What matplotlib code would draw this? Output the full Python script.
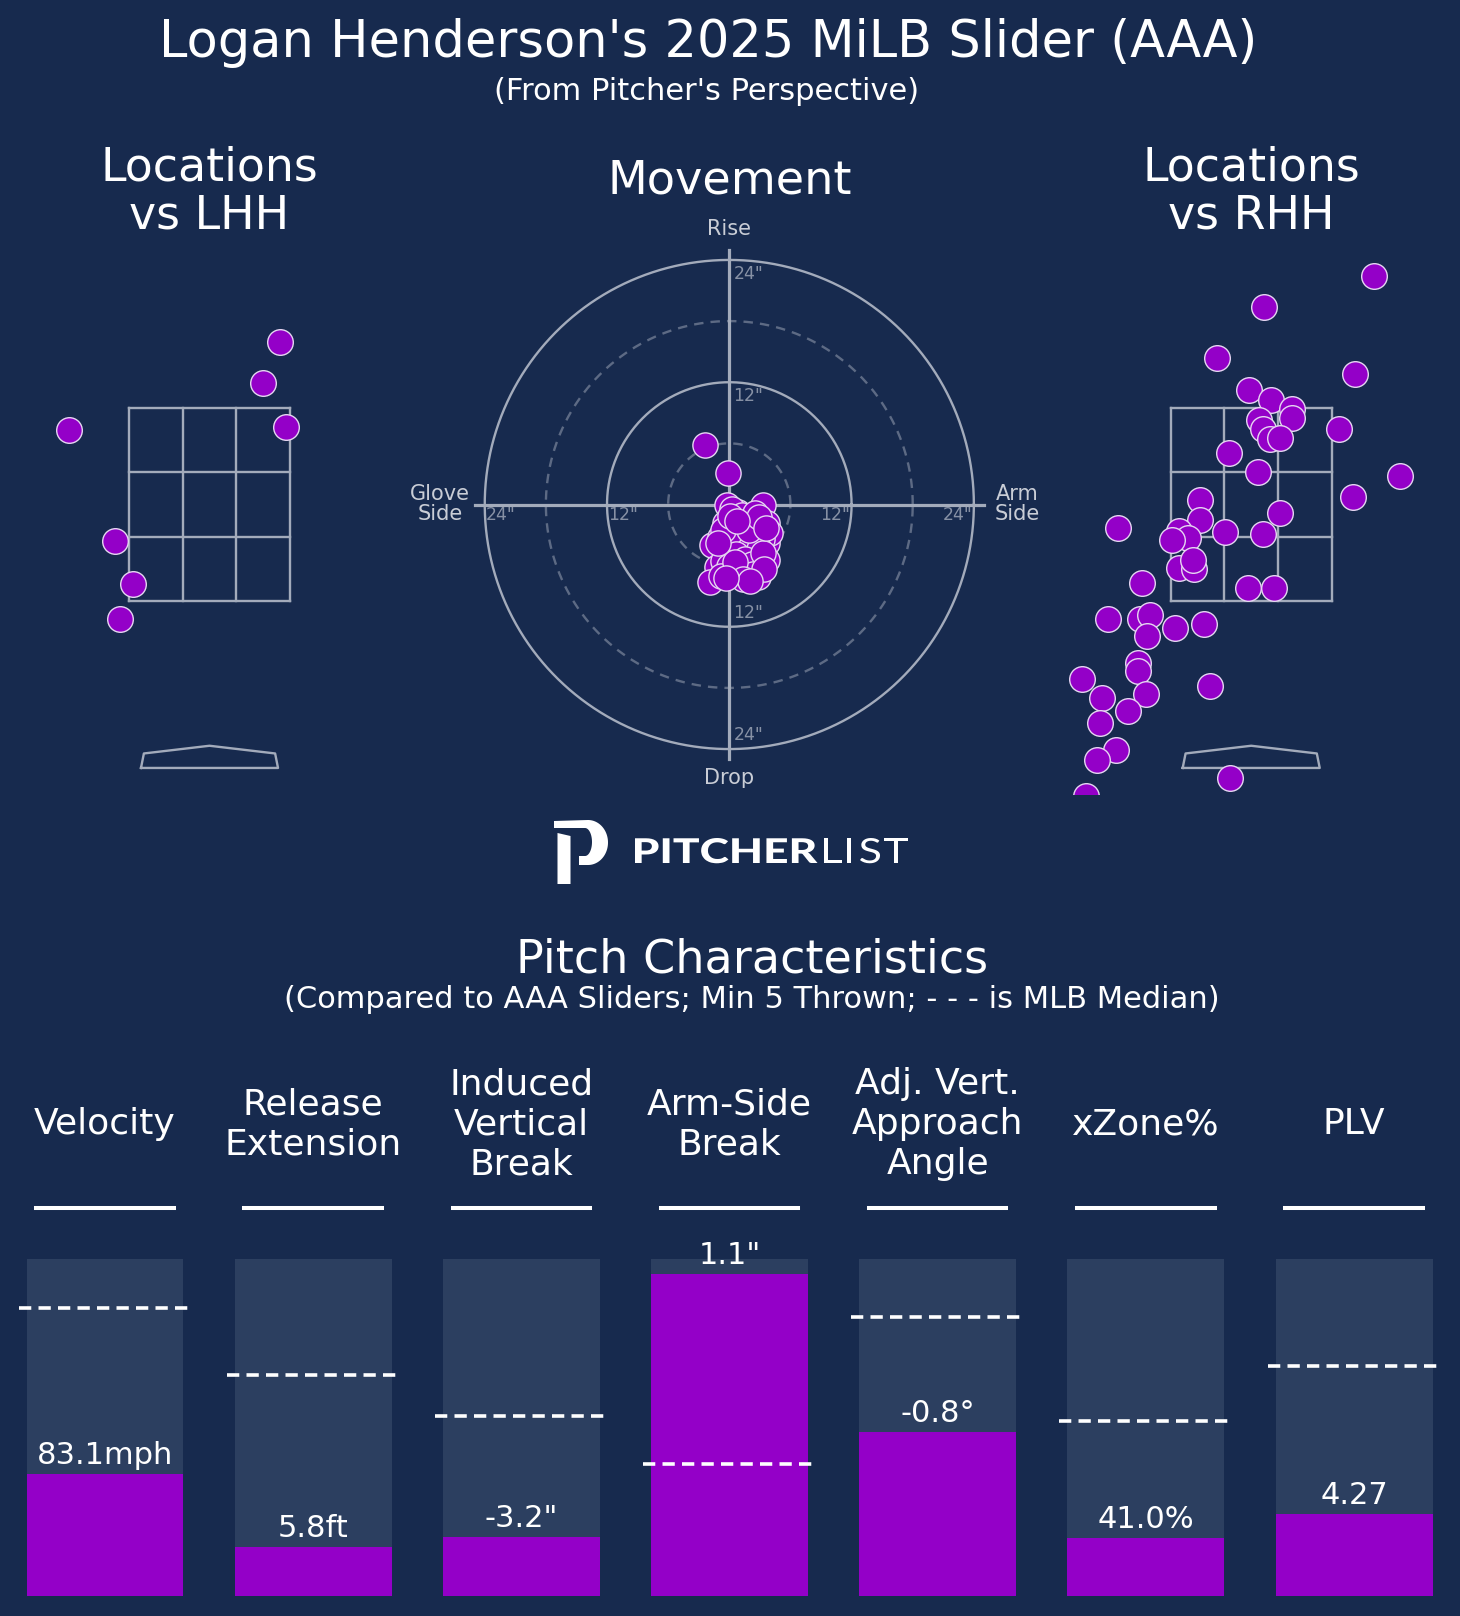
import numpy as np
import matplotlib.pyplot as plt
from matplotlib.patches import Polygon, PathPatch
from matplotlib.textpath import TextPath
from matplotlib.font_manager import FontProperties
from matplotlib.transforms import Affine2D

W, H = 1460, 1616
BG = "#172a4e"
BAR_BG = "#2c3f60"
PURPLE = "#9400c8"
EDGE = "#e6d6f2"
GRID = "#a3abbb"

# movement, inches (glove side negative, arm side positive)
hb = [-2.35, -0.1, -0.25, 3.3, 0.9, -0.4, 1.05, 3.7, 3.0, 1.7, -1.7, -0.25, 1.05,
      2.4, 3.7, -0.1, 2.7, -1.2, 0.4, 2.85, -1.9, 3.7, 1.7, -0.9, 2.0, 4.0,
      0.3, 1.2, 2.5, 0.2, 1.4, 2.6, 3.2, 0.5, -0.6, 1.8, 2.9, 0.7, 1.5, -0.6,
      2.2, 3.3, 0.0, 1.1, -0.8, 2.3, 3.4, 0.6, 1.9, 2.9, 0.1, -1.1, 1.3, 2.0,
      -0.3, 3.6, 0.8]
ivb = [5.8, 3.1, -0.05, 0.0, -0.7, -1.8, -2.2, -1.8, -2.7, -1.5, -4.0, -3.8, -4.1,
       -4.1, -3.8, -5.1, -5.1, -6.1, -6.6, -7.1, -7.6, -5.4, -6.1, -3.2, -3.2, -2.8,
       -0.4, -1.0, -0.8, -2.6, -3.0, -2.2, -3.4, -3.5, -2.5, -4.5, -4.4, -4.9, -5.3, -5.5,
       -5.8, -4.8, -6.0, -6.9, -7.0, -6.8, -6.3, -5.6, -2.5, -1.2, -1.1, -3.8, -7.3, -7.5,
       -7.2, -2.3, -1.6]

# locations, feet (pitcher's view)
lhh_x = [0.73, 0.55, 0.79, -1.46, -0.98, -0.79, -0.93]
lhh_z = [4.18, 3.76, 3.30, 3.27, 2.12, 1.68, 1.31]

rhh_x = [1.27, 0.13, -0.35, 1.08, -0.02, 0.21, 0.42, 0.42, 0.08, 0.12, 0.19, 0.30,
         0.91, -0.23, 1.54, 0.07, 1.06, -0.53, -0.53, 0.30, -1.38, -0.75, -0.66, -0.82,
         -0.27, 0.12, -0.75, -0.59, -0.60, -0.03, 0.24, -1.13, -1.48, -1.15, -1.05, -1.08,
         -0.79, -0.49, -1.17, -1.17, -1.75, -1.55, -1.09, -0.43, -1.28, -1.57, -1.40, -1.60,
         -0.22, -1.71]
rhh_z = [4.87, 4.55, 4.02, 3.85, 3.69, 3.58, 3.49, 3.40, 3.38, 3.28, 3.18, 3.19,
         3.28, 3.03, 2.80, 2.84, 2.58, 2.55, 2.34, 2.41, 2.26, 2.23, 2.15, 2.13,
         2.22, 2.19, 1.84, 1.83, 1.93, 1.63, 1.63, 1.69, 1.31, 1.31, 1.36, 1.14,
         1.22, 1.26, 0.86, 0.77, 0.69, 0.49, 0.54, 0.62, 0.36, 0.24, -0.04, -0.15,
         -0.33, -0.52]

metrics = ["Velocity", "Release\nExtension", "Induced\nVertical\nBreak", "Arm-Side\nBreak",
           "Adj. Vert.\nApproach\nAngle", "xZone%", "PLV"]
value_labels = ["83.1mph", "5.8ft", "-3.2\"", "1.1\"", "-0.8°", "41.0%", "4.27"]
pctl = [0.362, 0.145, 0.175, 0.955, 0.487, 0.172, 0.243]
median_pctl = [0.855, 0.656, 0.534, 0.392, 0.828, 0.519, 0.682]


def px_axes(fig, left, top, width, height):
    return fig.add_axes([left / W, 1 - (top + height) / H, width / W, height / H])


def fy(y):
    return 1 - y / H


def draw_locations(ax, xs, zs):
    ax.set_xlim(-2.1, 2.1)
    ax.set_ylim(-0.5, 5.0)
    ax.axis("off")
    for xv in np.linspace(-0.834, 0.834, 4):
        ax.plot([xv, xv], [1.5, 3.5], color=GRID, lw=1.7, zorder=1)
    for zv in np.linspace(1.5, 3.5, 4):
        ax.plot([-0.834, 0.834], [zv, zv], color=GRID, lw=1.7, zorder=1)
    plate_x = [-0.71, -0.68, 0, 0.68, 0.71, -0.71]
    plate_z = [-0.23, -0.08, 0, -0.08, -0.23, -0.23]
    ax.plot(plate_x, plate_z, color=GRID, lw=1.7, zorder=1)
    ax.scatter(xs, zs, s=340, c=PURPLE, edgecolors=EDGE, linewidths=1, zorder=3)


def draw_word(ax, text, x0, baseline, cap, stretch, family, weight):
    # glyph outlines in pixel space (y down), widened by `stretch`
    tp = TextPath((0, 0), text, size=100, prop=FontProperties(family=family, weight=weight))
    bb = tp.get_extents()
    k = cap / bb.y1
    tr = Affine2D().translate(-bb.x0, 0).scale(k * stretch, -k).translate(x0, baseline)
    ax.add_patch(PathPatch(tr.transform_path(tp), color="white", lw=0))


fig = plt.figure(figsize=(W / 100, H / 100), dpi=100, facecolor=BG)

fig.text(708 / W, fy(43), "Logan Henderson's 2025 MiLB Slider (AAA)", color="white",
         fontsize=36.7, ha="center", va="center")
fig.text(707 / W, fy(91), "(From Pitcher's Perspective)", color="white",
         fontsize=22, ha="center", va="center")

# location plots
ax_l = px_axes(fig, 209.5 - 202.65, 263.25, 405.3, 530.75)
draw_locations(ax_l, lhh_x, lhh_z)
ax_r = px_axes(fig, 1251.2 - 202.65, 263.25, 405.3, 530.75)
draw_locations(ax_r, rhh_x, rhh_z)
fig.text(209 / W, fy(192), "Locations\nvs LHH", color="white", fontsize=33,
         ha="center", va="center", linespacing=1.1)
fig.text(1251 / W, fy(192), "Locations\nvs RHH", color="white", fontsize=33,
         ha="center", va="center", linespacing=1.1)

# movement plot
ax_m = px_axes(fig, 729.3 - 305.7, 504.5 - 305.7, 611.4, 611.4)
ax_m.set_xlim(-30, 30)
ax_m.set_ylim(-30, 30)
ax_m.axis("off")
theta = np.linspace(0, 2 * np.pi, 400)
for r in (12, 24):
    ax_m.plot(r * np.cos(theta), r * np.sin(theta), color=GRID, lw=1.7, zorder=1)
for r in (6, 18):
    ax_m.plot(r * np.cos(theta), r * np.sin(theta), color=GRID, lw=1.7, alpha=0.5,
              ls=(0, (4, 3)), zorder=1)
ax_m.plot([-25, 25], [0, 0], color=GRID, lw=2.3, zorder=1)
ax_m.plot([0, 0], [-25, 25], color=GRID, lw=2.3, zorder=1)
for r in (12, 24):
    lab = f'{r}"'
    ax_m.text(r - 1.6, -1.0, lab, color=GRID, alpha=0.8, fontsize=12.5, ha="center", va="center")
    ax_m.text(-(r - 1.6), -1.0, lab, color=GRID, alpha=0.8, fontsize=12.5, ha="center", va="center")
    ax_m.text(0.4, r - 1.4, lab, color=GRID, alpha=0.8, fontsize=12.5, ha="left", va="center")
    ax_m.text(0.4, -(r - 1.4), lab, color=GRID, alpha=0.8, fontsize=12.5, ha="left", va="center")
ax_m.text(0, 27.0, "Rise", color="#c9cdd6", fontsize=15, ha="center", va="center")
ax_m.text(0, -26.8, "Drop", color="#c9cdd6", fontsize=15, ha="center", va="center")
ax_m.text(-28.4, 0, "Glove\nSide", color="#c9cdd6", fontsize=15, ha="center", va="center",
          linespacing=1.0)
ax_m.text(28.3, 0, "Arm\nSide", color="#c9cdd6", fontsize=15, ha="center", va="center",
          linespacing=1.0)
ax_m.scatter(hb, ivb, s=330, c=PURPLE, edgecolors=EDGE, linewidths=1, zorder=3)
fig.text(730 / W, fy(181), "Movement", color="white", fontsize=33.3, ha="center", va="center")

# logo: P mark and wordmark drawn in pixel space
ax_logo = fig.add_axes([0, 0, 1, 1], zorder=-1)
ax_logo.set_xlim(0, W)
ax_logo.set_ylim(H, 0)
ax_logo.axis("off")
t = np.linspace(-np.pi / 2, np.pi / 2, 60)
outer = list(zip(588 + 20 * np.cos(t), 842.5 + 22.5 * np.sin(t)))
inner = list(zip(585 + 7 * np.cos(t[::-1]), 842 + 14 * np.sin(t[::-1])))
bowl = [(554, 821), (588, 820)] + outer + [(579, 865), (579, 856)] + inner + [(570, 828), (554, 828)]
ax_logo.add_patch(Polygon(bowl, closed=True, color="white", lw=0))
ax_logo.add_patch(Polygon([(557.5, 833), (570.5, 836), (570.5, 884), (557.5, 884)],
                          closed=True, color="white", lw=0))
draw_word(ax_logo, "PITCHER", 635, 863, 25, 1.3, "Lato", "black")
for ch, lx in zip("LIST", [824, 847, 860, 884]):
    draw_word(ax_logo, ch, lx, 863, 25, 1.25, "Lato", "normal")

# pitch characteristics
fig.text(752 / W, fy(960), "Pitch Characteristics", color="white", fontsize=33.2,
         ha="center", va="center")
fig.text(752 / W, fy(999), "(Compared to AAA Sliders; Min 5 Thrown; - - - is MLB Median)",
         color="white", fontsize=22, ha="center", va="center")

step = 208.17
ax_b = px_axes(fig, 105 - step / 2, 1259, 7 * step, 337)
ax_b.set_xlim(-0.5, 6.5)
ax_b.set_ylim(0, 1)
ax_b.axis("off")
xs = np.arange(len(metrics))
ax_b.bar(xs, [1] * len(xs), width=0.754, color=BAR_BG, zorder=1)
ax_b.bar(xs, pctl, width=0.754, color=PURPLE, zorder=2)
for i in xs:
    ax_b.plot([i - 0.415, i + 0.415], [median_pctl[i]] * 2, color="white", lw=2.6,
              ls=(0, (3.4, 2.0)), zorder=3, clip_on=False)
    ax_b.plot([i - 0.33, i + 0.33], [1.151, 1.151], color="white", lw=2.9,
              zorder=3, clip_on=False)
    ax_b.text(i, 1.40, metrics[i], color="white", fontsize=26, ha="center", va="center",
              linespacing=1.22, clip_on=False)
    ax_b.annotate(value_labels[i], (i, pctl[i]), xytext=(0, 7), textcoords="offset points",
                  color="white", fontsize=22, ha="center", va="baseline", zorder=4)

fig.savefig("out.png", dpi=100, facecolor=BG)
